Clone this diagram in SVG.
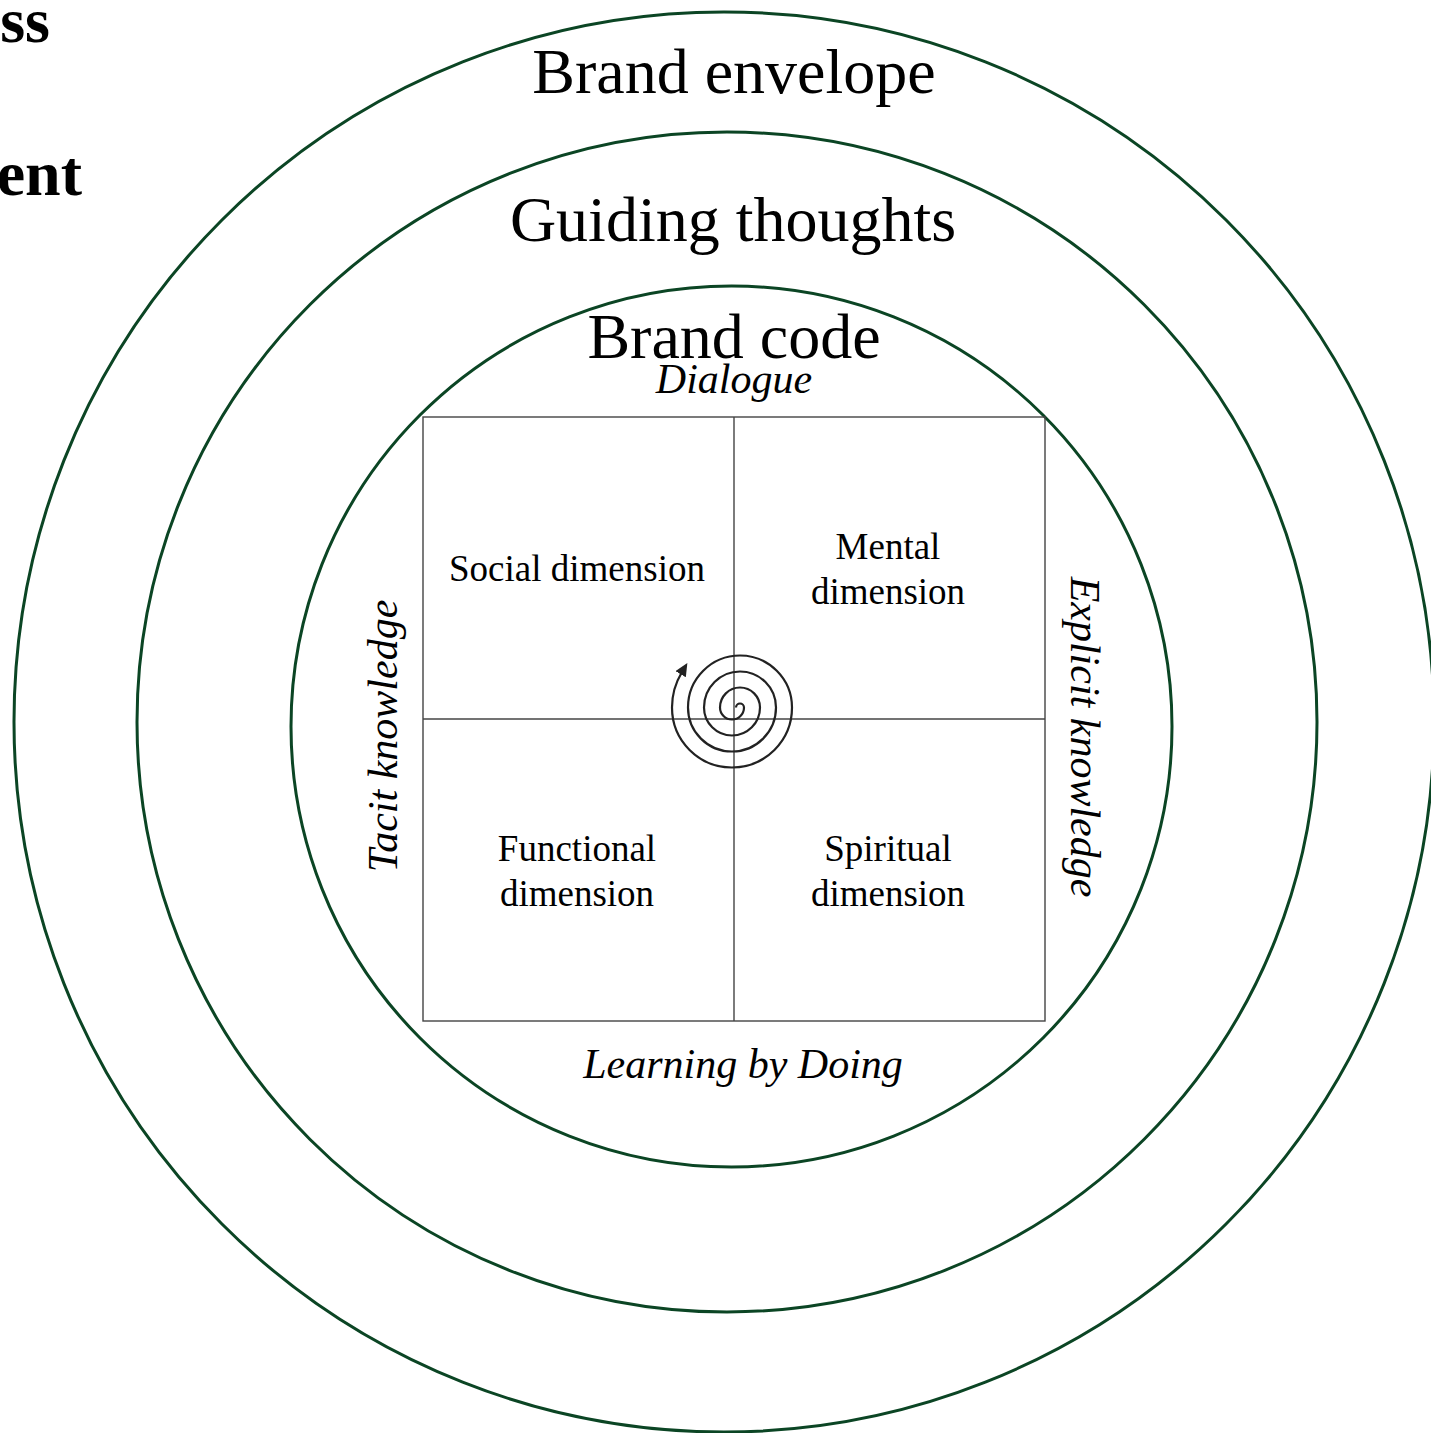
<svg xmlns="http://www.w3.org/2000/svg" width="1431" height="1433" viewBox="0 0 1431 1433">
<style>
.ring{fill:none;stroke:#0b4524;stroke-width:3}
.grid{fill:none;stroke:#444;stroke-width:1.4}
.big{font-family:"Liberation Serif","Times New Roman",serif;font-size:64px;fill:#000;text-anchor:middle}
.it{font-family:"Liberation Serif","Times New Roman",serif;font-size:42px;font-style:italic;fill:#000;text-anchor:middle}
.dim{font-family:"Liberation Serif","Times New Roman",serif;font-size:37px;fill:#000;text-anchor:middle}
.bold{font-family:"Liberation Serif","Times New Roman",serif;font-size:64px;font-weight:bold;fill:#000;text-anchor:end}
</style>
<defs>
<marker id="arrow" markerUnits="userSpaceOnUse" markerWidth="14" markerHeight="14" refX="2" refY="6" orient="auto">
<path d="M0,0 L13,6 L0,12 Z" fill="#222"/>
</marker>
</defs>
<rect width="1431" height="1433" fill="#fff"/>
<g id="cut-labels">
<text class="bold" x="50" y="42">ss</text>
<text class="bold" x="82" y="195">ent</text>
</g>
<g id="brand-envelope">
<circle class="ring" cx="724" cy="722" r="710"/>
<text class="big" x="734" y="93">Brand envelope</text>
</g>
<g id="guiding-thoughts">
<circle class="ring" cx="727" cy="722" r="590"/>
<text class="big" x="733" y="241">Guiding thoughts</text>
</g>
<g id="brand-code">
<circle class="ring" cx="731.5" cy="726.5" r="440.5"/>
<text class="big" x="734" y="358">Brand code</text>
</g>
<g id="matrix">
<rect class="grid" x="423" y="417" width="622" height="604"/>
<line class="grid" x1="734" y1="417" x2="734" y2="1021"/>
<line class="grid" x1="423" y1="719" x2="1045" y2="719"/>
</g>
<g id="axis-labels">
<text class="it" x="734" y="393">Dialogue</text>
<text class="it" x="743" y="1078">Learning by Doing</text>
<text class="it" transform="translate(397,736) rotate(-90)">Tacit knowledge</text>
<text class="it" transform="translate(1071,737) rotate(90)">Explicit knowledge</text>
</g>
<g id="social">
<text class="dim" x="577" y="581">Social dimension</text>
</g>
<g id="mental">
<text class="dim" x="888" y="559">Mental</text>
<text class="dim" x="888" y="604">dimension</text>
</g>
<g id="functional">
<text class="dim" x="577" y="861">Functional</text>
<text class="dim" x="577" y="906">dimension</text>
</g>
<g id="spiritual">
<text class="dim" x="888" y="861">Spiritual</text>
<text class="dim" x="888" y="906">dimension</text>
</g>
<g id="connectors">
<path id="spiral" fill="none" stroke="#222" stroke-width="2.2" marker-end="url(#arrow)"
d="M736,707.5 A4,4 0 0 1 744,707.5 A12,12 0 0 1 720,707.5 A20,20 0 0 1 760,707.5 A28,28 0 0 1 704,707.5 A36,36 0 0 1 776,707.5 A44,44 0 0 1 688,707.5 A52,52 0 0 1 792,707.5 A60,60 0 0 1 672,707.5 A68,68 0 0 1 681.7,672.5"/>
</g>
</svg>
